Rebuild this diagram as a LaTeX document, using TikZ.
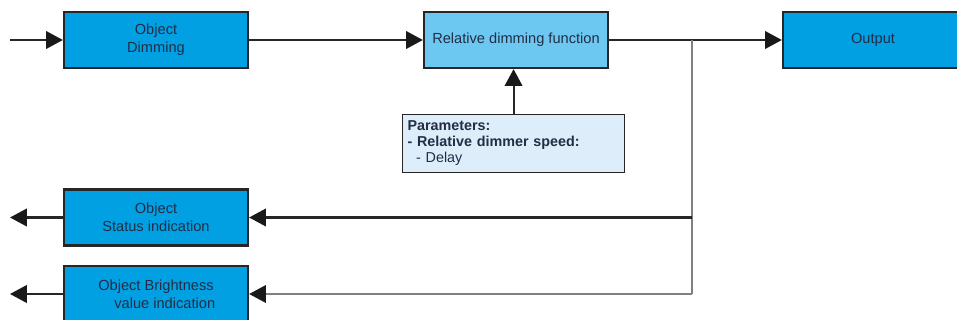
\documentclass[tikz,border=0pt]{standalone}
\usepackage{fontspec}
\setmainfont{Liberation Sans}
\usetikzlibrary{arrows.meta, positioning}
\definecolor{boxblue}{RGB}{0,160,227}
\definecolor{funcblue}{RGB}{108,200,240}
\definecolor{parblue}{RGB}{221,238,250}
\definecolor{txtdark}{RGB}{35,45,70}
\definecolor{linegray}{RGB}{128,128,128}

\begin{document}
\begin{tikzpicture}[
  block/.style={draw=black!85, line width=1.6pt, fill=boxblue, text=txtdark,
    minimum width=4.6cm, minimum height=1.4cm, align=center,
    font=\fontsize{10.4}{12.8}\selectfont},
  tri/.style={-{Triangle[length=12pt, width=12.5pt, color=black!90]}},
  wire/.style={line width=1.5pt, black!85},
  gwire/.style={line width=1.4pt, linegray}
]
\useasboundingbox (0,0) rectangle (23.925,-8);
%blocks (top row)
\node[block] (dimming) at (3.9,-1.0) {Object\\Dimming};
\node[block, fill=funcblue] (relfunc) at (12.9,-1.0) {Relative dimming function};
\node[block, minimum width=4.5cm] (output) at (21.825,-1.0) {Output};
%parameters
\node[draw=black!85, line width=0.9pt, fill=parblue, text=txtdark,
  text width=5.3cm, minimum height=1.35cm, align=left, anchor=north west,
  inner xsep=3.5pt, inner ysep=4.5pt, font=\fontsize{10.2}{11.4}\selectfont] (params) at (10.05,-2.85)
  {\textbf{Parameters:}\\\textbf{- Relative dimmer speed:}\\\hspace{0.6em}- Delay};
%blocks (left column)
\node[block] (status) at (3.9,-5.4375) {Object\\Status indication};
\node[block] (bright) at (3.9,-7.35) {Object Brightness\\\hspace{1.2em}value indication};
%connectors
\coordinate (in) at (0.25,-1.0);
\coordinate (split) at (17.3,-1.0);
\coordinate (outS) at (0.25,-5.4375);
\coordinate (outB) at (0.25,-7.35);
\draw[wire, tri] (in) -- (dimming);
\draw[wire, tri] (dimming) -- (relfunc);
\draw[wire, tri] (relfunc) -- (output);
\draw[wire, tri] (params.north) -- (params.north |- relfunc.south);
\draw[gwire] (split) -- (split |- bright.east);
\draw[wire, tri] (split |- status.east) -- (status);
\draw[gwire, tri] (split |- bright.east) -- (bright);
\draw[wire, tri] (status) -- (outS);
\draw[wire, tri] (bright) -- (outB);
\end{tikzpicture}
\end{document}
